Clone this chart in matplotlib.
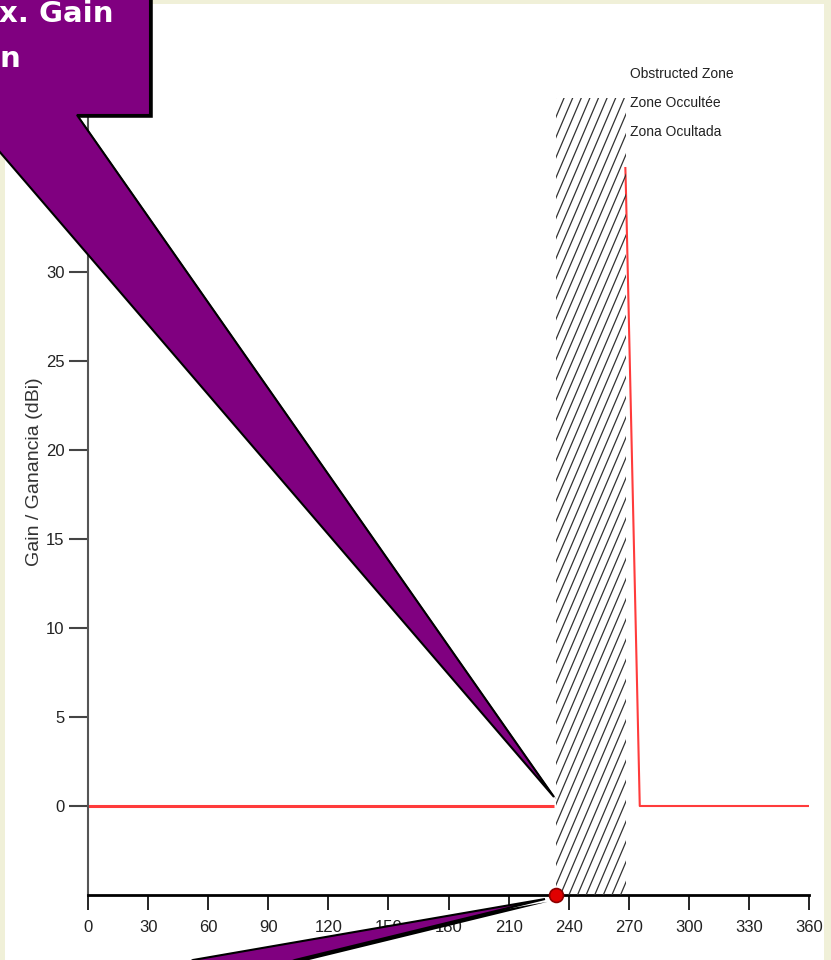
import matplotlib
matplotlib.use('Agg')
import matplotlib.pyplot as plt
import numpy as np
from matplotlib.patches import Rectangle, Polygon
import matplotlib.patheffects as pe

# ---- data ----
angles_left = [0, 232.7]
gain_left = [0, 0]
angles_right = [268.3, 268.6, 275.5, 360]
gain_right = [35.9, 34.6, 0, 0]
zone_start, zone_end, zone_top = 233.5, 268.4, 39.8
zone_labels = ["Obstructed Zone", "Zone Occultée", "Zona Ocultada"]
marker_angle, marker_gain = 233.5, -5
xticks = list(range(0, 361, 30))
yticks = list(range(0, 36, 5))
ylabel = "Gain / Ganancia (dBi)"
callout_lines = ["x. Gain", "n"]

W, H = 831, 960
fig = plt.figure(figsize=(W / 100, H / 100), dpi=100)
fig.patch.set_facecolor('#f0f0d8')


def fx(px):
    return px / W


def fy(py):
    return 1 - py / H


# white slide panel
fig.add_artist(Rectangle((fx(5), 0), fx(824) - fx(5), fy(4), transform=fig.transFigure,
                         facecolor='white', edgecolor='none', zorder=-10))

narrow = ['Liberation Sans', 'DejaVu Sans']

ax = fig.add_axes([fx(88), fy(895), fx(809) - fx(88), fy(94) - fy(895)])
ax.set_xlim(0, 360)
ax.set_ylim(-5, 40)
ax.patch.set_alpha(0)
for s in ['top', 'right']:
    ax.spines[s].set_visible(False)
ax.spines['bottom'].set_linewidth(2)
ax.spines['bottom'].set_color('black')
ax.spines['left'].set_linewidth(1.5)
ax.spines['left'].set_color('#555555')

ax.set_xticks(xticks)
ax.set_yticks(yticks)
ax.tick_params(axis='x', direction='out', length=11, width=1.2, color='black', pad=7)
ax.tick_params(axis='y', direction='out', length=14, width=1.5, color='#444444', pad=3)
for lab in ax.get_xticklabels() + ax.get_yticklabels():
    lab.set_family(narrow)
    lab.set_fontsize(12)
    lab.set_color('#222222')

# data line
ax.plot(angles_left, gain_left, color='#ff3b3b', lw=2.2, solid_capstyle='butt')
ax.plot(angles_right, gain_right, color='#ff3b3b', lw=1.5, solid_capstyle='butt')

# obstructed zone with steep hatch lines
clip_rect = Rectangle((zone_start, -5), zone_end - zone_start, zone_top + 5,
                      facecolor='none', edgecolor='none')
ax.add_patch(clip_rect)
fig.canvas.draw()
T = ax.transData
(dx0, dy0) = T.transform((zone_start, -5))
(dx1, dy1) = T.transform((zone_end, zone_top))
hgt = dy1 - dy0
slope = 2.35
step = 8.6
xs = np.arange(dx0 - hgt / slope, dx1 + step, step)
inv = T.inverted()
for xb in xs:
    p0 = inv.transform((xb, dy0))
    p1 = inv.transform((xb + hgt / slope, dy1))
    ln, = ax.plot([p0[0], p1[0]], [p0[1], p1[1]], color='#333333', lw=0.9, zorder=3)
    ln.set_clip_path(clip_rect)

for i, t in enumerate(zone_labels):
    ax.text(zone_end + 2.2, 40.9 - i * 1.63, t, family=narrow, fontsize=10,
            color='#222222', va='baseline', ha='left')

ax.plot([marker_angle], [marker_gain], marker='o', ms=10, mfc='#e00000',
        mec='#8b0000', mew=1.2, clip_on=False, zorder=10)

fig.text(fx(35), fy(472), ylabel, rotation=90, ha='center', va='center',
         fontsize=14, color='#333333', family=['Liberation Sans', 'DejaVu Sans'])

# callouts (decorative shapes, pixel coordinates)
shadow = [pe.SimplePatchShadow(offset=(2, -2), shadow_rgbFace='black', alpha=1.0), pe.Normal()]
top_shape = [(-60, -60), (150, -60), (150, 115), (77, 115), (554, 797), (-32, 115), (-60, 115)]
bot_shape = [(545, 899), (295, 960), (200, 998), (126, 998), (193, 960)]
for shp in (top_shape, bot_shape):
    poly = Polygon([(fx(a), fy(b)) for a, b in shp], closed=True, transform=fig.transFigure,
                   facecolor='#800080', edgecolor='black', lw=1.5, zorder=20,
                   joinstyle='miter')
    poly.set_path_effects(shadow)
    fig.add_artist(poly)

fig.text(fx(-1), fy(22), callout_lines[0], color='white', fontsize=21, fontweight='bold',
         family='DejaVu Sans', ha='left', va='baseline', zorder=25)
fig.text(fx(-1), fy(67), callout_lines[1], color='white', fontsize=21, fontweight='bold',
         family='DejaVu Sans', ha='left', va='baseline', zorder=25)

fig.savefig('out.png', dpi=100, facecolor=fig.get_facecolor())
